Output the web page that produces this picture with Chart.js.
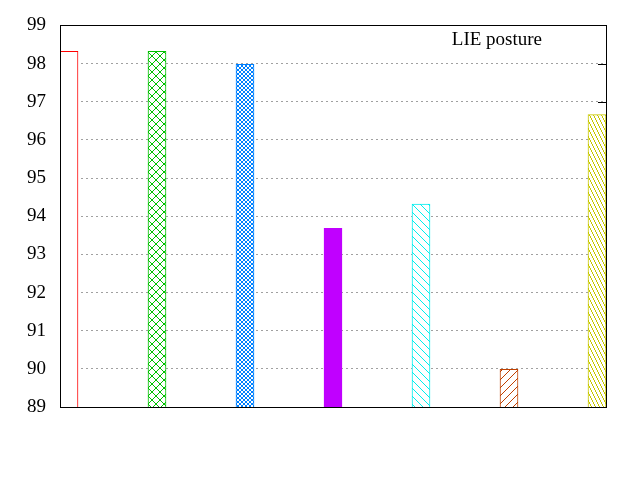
<!DOCTYPE html>
<html>
<head>
<meta charset="utf-8">
<script src="https://cdn.jsdelivr.net/npm/chart.js@4/dist/chart.umd.min.js"></script>
<style>
html,body{margin:0;padding:0;background:#fff;}
#wrap{width:640px;height:480px;}
</style>
</head>
<body>
<div id="wrap"><canvas id="c" width="640" height="480"></canvas></div>
<script>
// Data
const positions = [0, 1, 2, 3, 4, 5, 6];
const values = [98.32, 98.32, 97.98, 93.68, 94.32, 89.99, 96.66];
const barColors = ['#ff0000', '#00c000', '#0080ff', '#c000ff', '#00eeee', '#c04000', '#c8c800'];
const yMin = 89, yMax = 99, yStep = 1;
const xMin = -0.1023, xMax = 6.1023;
const keyTitle = 'LIE posture';

function makePattern(color, w, h, fn) {
  const c = document.createElement('canvas');
  c.width = w; c.height = h;
  const g = c.getContext('2d');
  g.fillStyle = '#ffffff';
  g.fillRect(0, 0, w, h);
  g.fillStyle = color;
  for (let y = 0; y < h; y++) for (let x = 0; x < w; x++) if (fn(x, y)) g.fillRect(x, y, 1, 1);
  return g.createPattern(c, 'repeat');
}
const fills = [
  '#ffffff',
  makePattern(barColors[1], 8, 8, (x, y) => x === y || x === 7 - y),
  makePattern(barColors[2], 4, 4, (x, y) => x === y || x === 3 - y),
  barColors[3],
  makePattern(barColors[4], 8, 8, (x, y) => x === y),
  makePattern(barColors[5], 8, 8, (x, y) => x === 7 - y),
  makePattern(barColors[6], 4, 8, (x, y) => x === Math.floor(y / 2))
];

const tickMarks = {
  id: 'tickMarks',
  beforeDatasetsDraw(chart) {
    const {ctx, chartArea: a, scales: {y}} = chart;
    ctx.save();
    ctx.strokeStyle = '#000';
    ctx.lineWidth = 1;
    for (let v = yMin + yStep; v < yMax; v += yStep) {
      const py = Math.round(y.getPixelForValue(v)) + 0.5;
      ctx.beginPath();
      ctx.moveTo(a.left, py); ctx.lineTo(a.left + 8, py);
      ctx.moveTo(a.right - 8, py); ctx.lineTo(a.right, py);
      ctx.stroke();
    }
    ctx.restore();
  },
  afterDatasetsDraw(chart) {
    const {ctx, chartArea: a} = chart;
    ctx.save();
    ctx.strokeStyle = '#000';
    ctx.lineWidth = 1;
    ctx.strokeRect(Math.round(a.left) + 0.5, Math.round(a.top) + 0.5, Math.round(a.right - a.left), Math.round(a.bottom - a.top));
    ctx.fillStyle = '#000';
    ctx.font = '19px "Liberation Serif", serif';
    ctx.textAlign = 'right';
    ctx.textBaseline = 'alphabetic';
    ctx.fillText(keyTitle, 542, 45);
    ctx.restore();
  }
};

new Chart(document.getElementById('c'), {
  type: 'bar',
  data: {
    datasets: [{
      data: positions.map((p, i) => ({x: p, y: values[i]})),
      backgroundColor: fills,
      borderColor: barColors,
      borderWidth: 1,
      borderSkipped: 'start',
      barThickness: 18
    }]
  },
  options: {
    responsive: false,
    animation: false,
    events: [],
    layout: {padding: {top: 22, right: 34, left: 0, bottom: 0}},
    plugins: {legend: {display: false}, tooltip: {enabled: false}, title: {display: false}},
    scales: {
      x: {
        type: 'linear',
        offset: false,
        min: xMin, max: xMax,
        ticks: {display: false},
        grid: {display: false, offset: false},
        border: {display: true, color: '#000'},
        afterFit(s) { s.height = 73; }
      },
      y: {
        min: yMin, max: yMax,
        ticks: {
          stepSize: yStep,
          color: '#000',
          padding: 14,
          font: {family: '"Liberation Serif", serif', size: 19}
        },
        grid: {
          drawTicks: false,
          color: (c) => (c.tick && (c.tick.value === yMin || c.tick.value === yMax)) ? 'rgba(0,0,0,0)' : '#a0a0a0',
          lineWidth: 1
        },
        border: {display: true, color: '#000', dash: [2, 3]},
        afterFit(s) { s.width = 60; }
      }
    }
  },
  plugins: [tickMarks]
});
</script>
</body>
</html>
